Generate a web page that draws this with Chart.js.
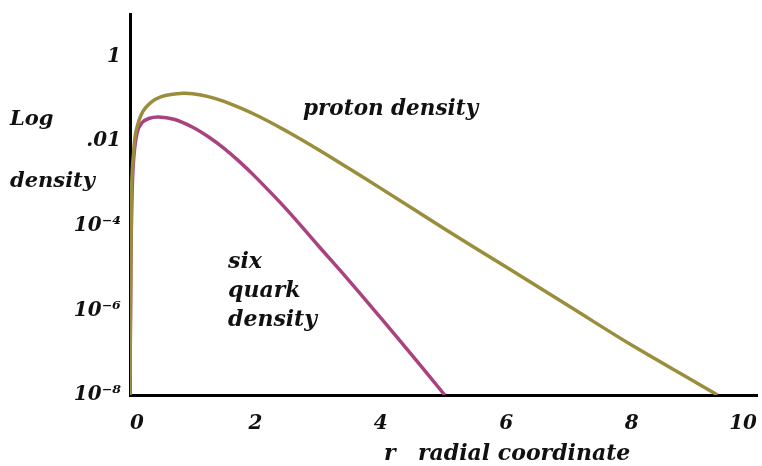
<!DOCTYPE html>
<html>
<head>
<meta charset="utf-8">
<script src="https://cdn.jsdelivr.net/npm/chart.js@4.4.1/dist/chart.umd.min.js"></script>
<style>
  html, body { margin: 0; padding: 0; background: #fff; }
  #wrap { width: 762px; height: 466px; }
</style>
</head>
<body>
<div id="wrap"><canvas id="chart"></canvas></div>
<script>
// values (r, density on a log axis)
const protonR = [0, 0.005, 0.01, 0.02, 0.03, 0.06, 0.1, 0.2, 0.35, 0.5, 0.65, 0.85, 1.0, 1.25, 1.5, 2, 2.5, 3, 3.5, 4, 5, 6, 7, 8, 9, 9.37];
const protonDensity = [1e-8, 3e-7, 3e-6, 1.6e-4, 1.3e-3, 6e-3, 0.018, 0.048, 0.085, 0.112, 0.126, 0.134, 0.131, 0.112, 0.086,
  0.0417, 0.017, 6.3e-3, 2.2e-3, 7.6e-4, 8.7e-5, 1.05e-5, 1.26e-6, 1.51e-7, 2.09e-8, 1e-8];

const quarkR = [0, 0.005, 0.01, 0.02, 0.05, 0.11, 0.19, 0.3, 0.45, 0.7, 1.0, 1.25, 1.5, 1.75, 2, 2.5, 3, 3.5, 4, 4.5, 5.02];
const quarkDensity = [1e-8, 1.6e-7, 1.6e-6, 6e-5, 2.5e-3, 0.015, 0.027, 0.034, 0.037, 0.0327, 0.0212, 0.0126, 6.7e-3,
  3.21e-3, 1.42e-3, 2.4e-4, 3.4e-5, 4.9e-6, 6.6e-7, 8.6e-8, 1e-8];

const xTicks = [0, 2, 4, 6, 8, 10];
const yTicks = [1e-8, 1e-6, 1e-4, 1e-2, 1];
const yTickLabels = ["10\u207B\u2078", "10\u207B\u2076", "10\u207B\u2074", ".01", "1"];

const FONT = '"DejaVu Serif", serif';

function toPoints(xs, ys) {
  return xs.map((x, i) => ({ x: x, y: ys[i] }));
}

// free text on the plot
const labelsPlugin = {
  id: "labels",
  afterDraw(chart) {
    const ctx = chart.ctx;
    ctx.save();
    ctx.fillStyle = "#111";
    ctx.textAlign = "left";
    ctx.textBaseline = "alphabetic";
    ctx.font = "italic bold 21px " + FONT;
    ctx.fillText("Log", 10, 125);
    ctx.fillText("density", 10, 187);
    ctx.font = "italic bold 21.5px " + FONT;
    ctx.fillText("proton density", 303, 115);
    ctx.font = "italic bold 22px " + FONT;
    ctx.fillText("six", 228, 268);
    ctx.fillText("quark", 228, 297);
    ctx.fillText("density", 228, 326);
    ctx.fillText("r", 384, 460);
    ctx.fillText("radial coordinate", 418, 460);
    ctx.restore();
  },
};

const config = {
  type: "line",
  data: {
    datasets: [
      {
        label: "proton density",
        data: toPoints(protonR, protonDensity),
        borderColor: "#9a8d3c",
        borderWidth: 3.5,
        pointRadius: 0,
        tension: 0.35,
        fill: false,
      },
      {
        label: "six quark density",
        data: toPoints(quarkR, quarkDensity),
        borderColor: "#a8437f",
        borderWidth: 3.5,
        pointRadius: 0,
        tension: 0.35,
        fill: false,
      },
    ],
  },
  options: {
    responsive: true,
    maintainAspectRatio: false,
    animation: false,
    layout: {
      autoPadding: false,
      padding: { top: 14, right: 5, left: 0, bottom: 0 },
    },
    scales: {
      x: {
        type: "linear",
        min: 0,
        max: 10,
        grid: { display: false, drawTicks: false },
        border: { display: true, color: "#000", width: 3 },
        afterBuildTicks: (scale) => {
          scale.ticks = xTicks.map((v) => ({ value: v }));
        },
        afterFit: (scale) => {
          scale.height = 71;
          scale.paddingLeft = 0;
          scale.paddingRight = 0;
        },
        ticks: {
          color: "#111",
          align: "inner",
          padding: 17,
          maxRotation: 0,
          font: { family: FONT, size: 20, style: "italic", weight: "bold" },
        },
      },
      y: {
        type: "logarithmic",
        min: 1e-8,
        max: 10,
        grid: { display: false, drawTicks: false },
        border: { display: true, color: "#000", width: 3 },
        afterBuildTicks: (scale) => {
          scale.ticks = yTicks.map((v) => ({ value: v }));
        },
        afterFit: (scale) => {
          scale.width = 130;
          scale.paddingTop = 0;
          scale.paddingBottom = 0;
        },
        ticks: {
          color: "#111",
          padding: 9,
          font: { family: FONT, size: 20, style: "italic", weight: "bold" },
          callback: (value) => {
            const i = yTicks.findIndex((t) => Math.abs(Math.log10(t) - Math.log10(value)) < 1e-6);
            return i >= 0 ? yTickLabels[i] : "";
          },
        },
      },
    },
    plugins: {
      legend: { display: false },
      title: { display: false },
      tooltip: { enabled: false },
    },
  },
  plugins: [labelsPlugin],
};

new Chart(document.getElementById("chart"), config);
</script>
</body>
</html>
